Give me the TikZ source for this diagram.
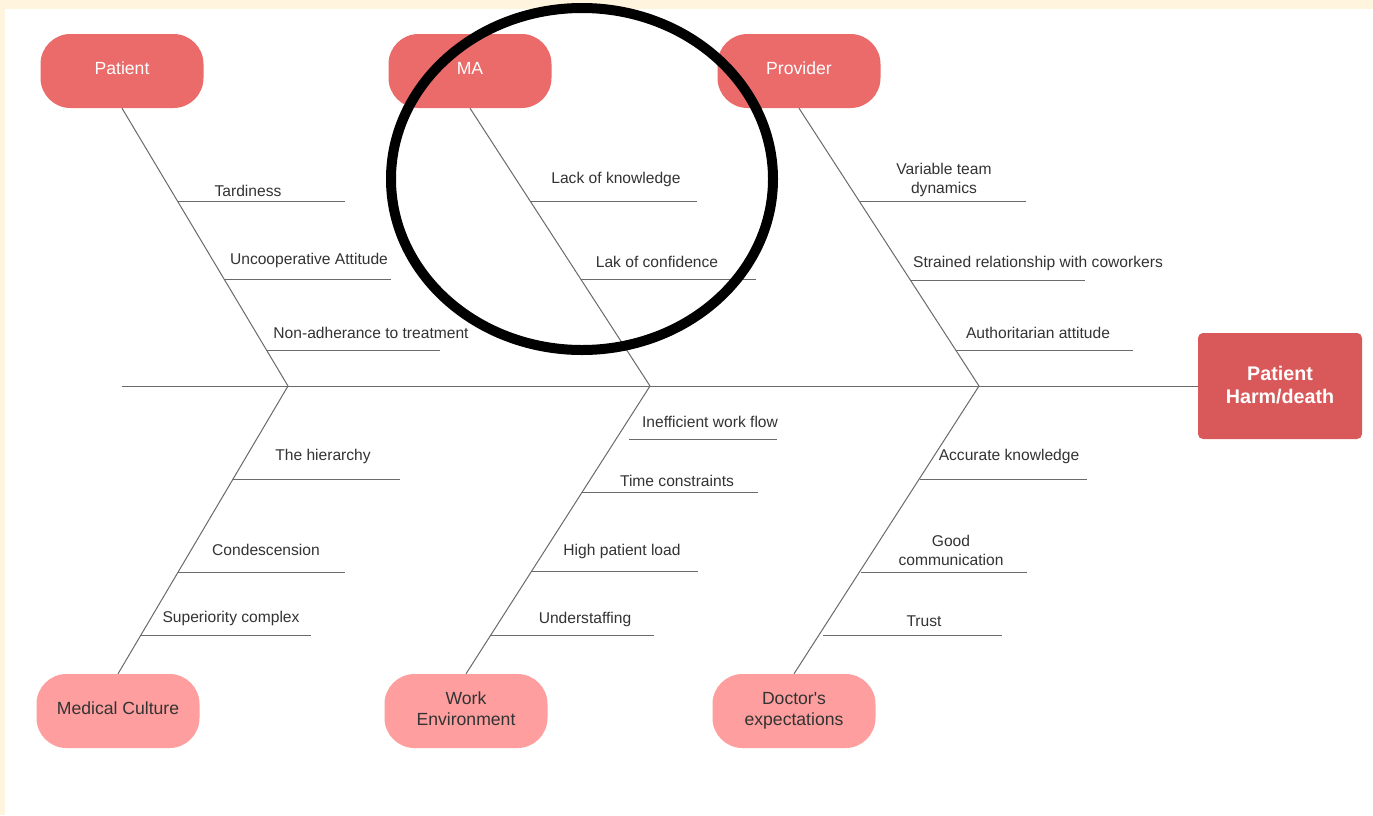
\documentclass[tikz,border=0pt]{standalone}
\usepackage{fontspec}
\setmainfont{Liberation Sans}

\definecolor{haut}{HTML}{EB6B6B}
\definecolor{bas}{HTML}{FE9E9E}
\definecolor{tete}{HTML}{D9585A}
\definecolor{creme}{HTML}{FFF4DE}
\definecolor{trait}{HTML}{6A6A6A}
\definecolor{texte}{HTML}{333333}

\newcommand{\cstrut}{\rule[-5pt]{0pt}{13pt}}

\tikzset{
  cause/.style={rounded corners=30pt,minimum width=163pt,minimum height=74pt,
    inner sep=0pt,align=center,font=\fontsize{17.6}{21}\selectfont},
  causehaut/.style={cause,fill=haut,text=white},
  causebas/.style={cause,fill=bas,text=texte},
  arete/.style={draw=trait,line width=1pt},
  etiqdeux/.style={text=texte,inner sep=0pt,align=center,font=\fontsize{15.6}{19}\selectfont},
  etiq/.style={etiqdeux,text height=11pt,text depth=0pt}
}

\begin{document}
\begin{tikzpicture}[x=1pt,y=-1pt]

\useasboundingbox (0,0) rectangle (1373,815) ;
\fill[creme] (0,0) rectangle (1373,815) ;
\fill[white] (5,9) rectangle (1373,815) ;

% tete et causes

\node[rectangle,rounded corners=5pt,fill=tete,text=white,minimum width=164pt,
  minimum height=106pt,align=center,font=\fontsize{19.7}{23}\selectfont\bfseries]
  (tete) at (1280,386) {Patient\\Harm/death\rule[-3pt]{0pt}{0pt}} ;

\node[causehaut] (patient) at (122,71) {\cstrut Patient\cstrut} ;
\node[causehaut] (ma) at (470,71) {\cstrut MA\cstrut} ;
\node[causehaut] (provider) at (799,71) {\cstrut Provider\cstrut} ;

\node[causebas] (culture) at (118,711) {\cstrut Medical Culture\cstrut} ;
\node[causebas] (travail) at (466,711) {\cstrut Work\\Environment\cstrut} ;
\node[causebas] (docteur) at (794,711) {\cstrut Doctor\textquotesingle s\\expectations\cstrut} ;

% arete centrale

\coordinate (queue) at (122,386) ;
\coordinate (j1) at (288,386) ;
\coordinate (j2) at (650,386) ;
\coordinate (j3) at (979,386) ;

\draw[arete] (queue) -- (tete.west) ;

\draw[arete] (patient.south) -- (j1) ;
\draw[arete] (ma.south) -- (j2) ;
\draw[arete] (provider.south) -- (j3) ;
\draw[arete] (j1) -- (culture.north) ;
\draw[arete] (j2) -- (travail.north) ;
\draw[arete] (j3) -- (docteur.north) ;

% aretes patient

\coordinate (a1) at (178,201) ; \coordinate (b1) at (345,201) ;
\coordinate (a2) at (224,279) ; \coordinate (b2) at (391,279) ;
\coordinate (a3) at (267,350) ; \coordinate (b3) at (440,350) ;
\draw[arete] (a1) -- (b1) ;
\draw[arete] (a2) -- (b2) ;
\draw[arete] (a3) -- (b3) ;
\node[etiq] (tard) at (248,191) {Tardiness} ;
\node[etiq] (uncoop) at (309,259) {Uncooperative Attitude} ;
\node[etiq] (nonadh) at (371,333) {Non-adherance to treatment} ;

% aretes MA

\coordinate (a4) at (530,201) ; \coordinate (b4) at (697,201) ;
\coordinate (a5) at (581,279) ; \coordinate (b5) at (756,279) ;
\draw[arete] (a4) -- (b4) ;
\draw[arete] (a5) -- (b5) ;
\node[etiq] (lack) at (616,178) {Lack of knowledge} ;
\node[etiq] (lak) at (657,262) {Lak of confidence} ;

% aretes provider

\coordinate (a6) at (859,201) ; \coordinate (b6) at (1026,201) ;
\coordinate (a7) at (910,280) ; \coordinate (b7) at (1085,280) ;
\coordinate (a8) at (956,350) ; \coordinate (b8) at (1133,350) ;
\draw[arete] (a6) -- (b6) ;
\draw[arete] (a7) -- (b7) ;
\draw[arete] (a8) -- (b8) ;
\node[etiqdeux] (variable) at (944,180) {Variable team\\dynamics} ;
\node[etiq] (strained) at (1038,262) {Strained relationship with coworkers} ;
\node[etiq] (autor) at (1038,333) {Authoritarian attitude} ;

% aretes medical culture

\coordinate (c1) at (233,479) ; \coordinate (d1) at (400,479) ;
\coordinate (c2) at (178,572) ; \coordinate (d2) at (345,572) ;
\coordinate (c3) at (141,635) ; \coordinate (d3) at (311,635) ;
\draw[arete] (c1) -- (d1) ;
\draw[arete] (c2) -- (d2) ;
\draw[arete] (c3) -- (d3) ;
\node[etiq] (hier) at (323,455) {The hierarchy} ;
\node[etiq] (conde) at (266,550) {Condescension} ;
\node[etiq] (super) at (231,617) {Superiority complex} ;

% aretes work environment

\coordinate (c4) at (629,439) ; \coordinate (d4) at (777,439) ;
\coordinate (c5) at (582,492) ; \coordinate (d5) at (758,492) ;
\coordinate (c6) at (532,571) ; \coordinate (d6) at (698,571) ;
\coordinate (c7) at (491,635) ; \coordinate (d7) at (654,635) ;
\draw[arete] (c4) -- (d4) ;
\draw[arete] (c5) -- (d5) ;
\draw[arete] (c6) -- (d6) ;
\draw[arete] (c7) -- (d7) ;
\node[etiq] (ineff) at (710,422) {Inefficient work flow} ;
\node[etiq] (time) at (677,481) {Time constraints} ;
\node[etiq] (load) at (622,550) {High patient load} ;
\node[etiq] (under) at (585,618) {Understaffing} ;

% aretes doctor

\coordinate (c8) at (920,479) ; \coordinate (d8) at (1087,479) ;
\coordinate (c9) at (861,572) ; \coordinate (d9) at (1027,572) ;
\coordinate (c10) at (823,635) ; \coordinate (d10) at (1002,635) ;
\draw[arete] (c8) -- (d8) ;
\draw[arete] (c9) -- (d9) ;
\draw[arete] (c10) -- (d10) ;
\node[etiq] (accur) at (1009,455) {Accurate knowledge} ;
\node[etiqdeux] (good) at (951,550.5) {Good\\communication} ;
\node[etiq] (trust) at (924,621) {Trust} ;

% cercle

\draw[line width=10pt] (582,179) ellipse [x radius=191pt,y radius=171pt] ;

\end{tikzpicture}
\end{document}
